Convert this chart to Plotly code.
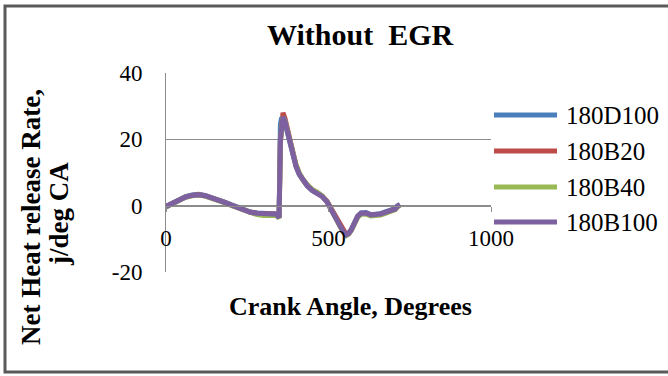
import plotly.graph_objects as go

# Crank angle (degrees) and net heat release rate (J/deg CA) for each fuel blend
crank_angle = [0, 20, 40, 60, 80, 100, 120, 140, 160, 180, 200, 220, 240, 260, 280,
               300, 320, 340, 345, 348, 352, 356, 360, 366, 372, 380, 390, 400, 410,
               420, 435, 450, 465, 480, 495, 505, 515, 525, 535, 545, 555, 562, 570,
               580, 590, 600, 615, 630, 645, 660, 675, 690, 705, 712, 720]

hrr_180D100 = [-0.2, 0.9, 2.0, 2.7, 3.2, 3.4, 3.1, 2.5, 1.8, 1.1, 0.3, -0.5, -1.2, -1.9, -2.2,
               -2.4, -2.3, -2.5, -3.1, -3.4, 24.5, 26.6, 26.0, 24.8, 22.6, 19.2, 15.2, 11.8, 9.4,
               7.7, 5.9, 4.6, 3.9, 2.9, 1.3, -0.4, -2.2, -4.2, -6.1, -7.7, -8.7, -8.3, -7.2,
               -5.1, -3.1, -2.2, -2.1, -2.7, -2.6, -2.4, -1.9, -1.4, -0.9, -0.1, 0.4]

hrr_180B20 = [-0.3, 0.8, 1.9, 2.6, 3.1, 3.3, 3.0, 2.4, 1.7, 1.0, 0.2, -0.6, -1.3, -2.0, -2.3,
              -2.5, -2.4, -2.6, -3.2, -3.5, 19.0, 26.0, 28.0, 26.4, 23.6, 20.0, 15.8, 12.2, 9.7,
              7.9, 6.1, 4.7, 3.9, 2.9, 1.4, -0.3, -2.1, -4.1, -6.0, -7.7, -8.8, -8.5, -7.4,
              -5.3, -3.3, -2.4, -2.3, -2.9, -2.8, -2.6, -2.1, -1.6, -1.1, -0.3, 0.2]

hrr_180B40 = [-0.4, 0.7, 1.8, 2.5, 3.0, 3.2, 2.9, 2.3, 1.6, 0.9, 0.1, -0.7, -1.5, -2.3, -2.7,
              -3.0, -2.9, -3.0, -3.5, -3.8, 19.5, 26.2, 26.8, 25.6, 23.2, 19.8, 16.0, 12.4, 9.9,
              8.1, 6.3, 4.9, 4.1, 3.0, 1.2, -0.6, -2.5, -4.5, -6.4, -8.0, -9.0, -8.6, -7.5,
              -5.4, -3.5, -2.6, -2.5, -3.1, -3.0, -2.8, -2.3, -1.8, -1.2, -0.4, 0.1]

hrr_180B100 = [-0.3, 0.8, 1.9, 2.6, 3.1, 3.3, 3.0, 2.4, 1.7, 1.0, 0.2, -0.6, -1.3, -2.0, -2.3,
               -2.5, -2.4, -2.6, -3.3, -3.6, 20.0, 26.5, 26.8, 25.5, 23.0, 19.5, 15.5, 12.0, 9.5,
               7.8, 6.0, 4.6, 3.8, 2.8, 1.2, -0.5, -2.3, -4.3, -6.2, -7.8, -8.8, -8.4, -7.3,
               -5.2, -3.2, -2.3, -2.2, -2.8, -2.7, -2.5, -2.0, -1.5, -1.0, -0.2, 0.3]

series_names = ["180D100", "180B20", "180B40", "180B100"]
series_values = [hrr_180D100, hrr_180B20, hrr_180B40, hrr_180B100]
series_colors = ["#4A7EBB", "#BE4B48", "#98B954", "#7D60A0"]

x_ticks = [0, 500, 1000]
x_tick_text = ["0", "500", "1000"]
y_ticks = [-20, 0, 20, 40]
y_tick_text = ["-20", "0", "20", "40"]

W, H = 668, 376
L, R, T, B = 166, 177, 73, 104
PW, PH = W - L - R, H - T - B


def px(x):
    return (x - L) / PW


def py(y):
    return (H - B - y) / PH


SERIF = "Liberation Serif, Times New Roman, serif"
GRID = "#8c8c8c"

fig = go.Figure()
for name, vals, col in zip(series_names, series_values, series_colors):
    fig.add_trace(go.Scatter(x=crank_angle, y=vals, mode="lines", name=name,
                             line=dict(color=col, width=5), showlegend=False))

fig.update_layout(
    width=W, height=H, autosize=False,
    margin=dict(l=L, r=R, t=T, b=B),
    paper_bgcolor="white", plot_bgcolor="white",
    font=dict(family=SERIF, color="black"),
    xaxis=dict(range=[0, 1000], tickvals=x_ticks, ticktext=x_tick_text,
               showgrid=False, zeroline=False,
               anchor="free", position=(0 - (-20)) / 60,
               showline=True, linecolor=GRID, linewidth=1,
               ticks="outside", ticklen=5, tickcolor=GRID,
               tickfont=dict(size=23, family=SERIF, color="black"),
               ticklabelstandoff=7),
    yaxis=dict(range=[-20, 40], tickvals=y_ticks, ticktext=y_tick_text,
               showgrid=True, gridcolor=GRID,
               gridwidth=1, zeroline=False, showline=True, linecolor=GRID, linewidth=1,
               ticks="", tickfont=dict(size=23, family=SERIF, color="black"),
               ticklabelstandoff=18),
)

annotations = [
    dict(text="<b>Without\u00a0 EGR</b>", x=px(360), y=py(34.5), xref="paper", yref="paper",
         xanchor="center", yanchor="middle", showarrow=False,
         font=dict(size=30, family=SERIF, color="black")),
    dict(text="<b>Crank Angle, Degrees</b>", x=px(350), y=py(306), xref="paper", yref="paper",
         xanchor="center", yanchor="middle", showarrow=False,
         font=dict(size=26, family=SERIF, color="black")),
    dict(text="<b>Net Heat release Rate,</b>", x=px(31), y=py(217), xref="paper", yref="paper",
         xanchor="center", yanchor="middle", showarrow=False, textangle=-90,
         font=dict(size=27, family=SERIF, color="black")),
    dict(text="<b>j/deg CA</b>", x=px(59), y=py(214), xref="paper", yref="paper",
         xanchor="center", yanchor="middle", showarrow=False, textangle=-90,
         font=dict(size=27, family=SERIF, color="black")),
]

shapes = [
    # outer chart border
    dict(type="rect", xref="paper", yref="paper", x0=px(5), x1=px(690), y0=py(6), y1=py(372),
         line=dict(color="#5a5a5a", width=3), fillcolor="rgba(0,0,0,0)", layer="above"),
]

# legend entries at the right
legend_y = [115, 151, 187, 222]
for name, col, yy in zip(series_names, series_colors, legend_y):
    shapes.append(dict(type="line", xref="paper", yref="paper", x0=px(494), x1=px(557),
                       y0=py(yy), y1=py(yy), line=dict(color=col, width=5)))
    annotations.append(dict(text=name, x=px(564), y=py(yy), xref="paper", yref="paper",
                            xanchor="left", yanchor="middle", showarrow=False,
                            font=dict(size=25, family=SERIF, color="black")))

fig.update_layout(annotations=annotations, shapes=shapes)
fig.write_html("out.html")
